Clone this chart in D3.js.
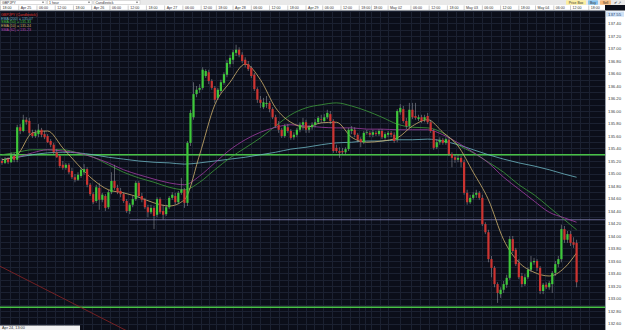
<!DOCTYPE html>
<html>
<head>
<meta charset="utf-8">
<script src="https://cdn.jsdelivr.net/npm/d3@7/dist/d3.min.js"></script>
<style>
  html, body { margin: 0; padding: 0; background: #0b0e19; overflow: hidden; }
  svg { display: block; font-family: "Liberation Sans", Arial, sans-serif; }
</style>
</head>
<body>
<div id="chart"></div>
<script>
// GBPJPY 1 hour candles
var opens = [
  135.20,135.17,135.23,135.18,135.28,135.22,135.74,135.68,135.86,135.84,
  135.65,135.60,135.63,135.70,135.63,135.60,135.52,135.46,135.34,135.28,
  135.14,135.09,135.14,135.04,134.94,134.90,134.96,135.02,135.07,134.82,
  134.67,134.56,134.77,134.58,134.64,134.46,134.70,134.88,134.77,134.72,
  134.67,134.56,134.40,134.50,134.59,134.85,134.64,134.58,134.46,134.38,
  134.45,134.34,134.59,134.40,134.35,134.46,134.61,134.64,134.54,134.69,
  134.74,134.53,135.49,135.90,136.27,136.34,136.37,136.56,136.62,136.48,
  136.37,136.21,136.32,136.45,136.58,136.75,136.82,136.93,136.98,136.90,
  136.82,136.75,136.69,136.58,136.35,136.18,136.06,136.11,136.13,136.03,
  135.90,135.78,135.70,135.60,135.74,135.68,135.58,135.62,135.70,135.78,
  135.82,135.70,135.74,135.78,135.82,135.87,135.84,135.90,135.95,135.84,
  135.41,135.36,135.36,135.34,135.39,135.68,135.70,135.62,135.55,135.50,
  135.65,135.65,135.62,135.65,135.63,135.68,135.57,135.62,135.65,135.62,
  135.54,135.98,136.03,135.84,135.76,136.02,135.92,135.87,135.90,135.86,
  135.92,135.82,135.68,135.42,135.50,135.54,135.49,135.54,135.31,135.26,
  135.22,135.25,135.18,134.69,134.54,134.61,134.66,134.69,134.61,134.19,
  134.06,133.63,133.49,133.23,133.07,133.14,133.22,133.33,133.95,133.78,
  133.57,133.36,133.23,133.34,133.46,133.58,133.60,133.49,133.12,133.22,
  133.18,133.23,133.41,133.55,133.63,134.11,133.94,134.03,133.90,133.89
];
var highs = [
  135.25,135.26,135.26,135.34,135.33,135.78,135.79,135.94,135.90,135.89,
  135.70,135.70,135.79,135.73,135.68,135.63,135.55,135.49,135.39,135.30,
  135.20,135.17,135.17,135.09,134.99,135.02,135.09,135.15,135.10,134.85,
  134.70,134.82,134.85,134.69,134.67,134.74,135.02,135.14,134.82,134.77,
  134.70,134.59,134.53,134.64,134.88,134.88,134.69,134.61,134.50,134.50,
  134.48,134.62,134.62,134.50,134.50,134.64,134.70,134.69,134.72,134.93,
  134.77,135.52,136.02,136.46,136.40,136.43,136.70,136.67,136.66,136.51,
  136.40,136.37,136.50,136.62,136.82,136.90,136.98,137.06,137.02,136.94,
  136.86,136.80,136.72,136.61,136.38,136.24,136.21,136.24,136.16,136.06,
  135.94,135.84,135.73,135.79,135.79,135.71,135.66,135.73,135.82,135.89,
  135.86,135.78,135.82,135.87,135.92,135.94,135.95,136.02,136.00,135.87,
  135.46,135.42,135.41,135.42,135.73,135.76,135.74,135.65,135.58,135.68,
  135.70,135.68,135.70,135.68,135.71,135.71,135.66,135.68,135.68,135.66,
  136.03,136.11,136.08,135.89,136.13,136.13,136.13,135.94,135.94,135.94,
  135.97,135.86,135.71,135.55,135.58,135.57,135.58,135.57,135.34,135.30,
  135.30,135.28,135.22,134.74,134.66,134.70,134.74,134.72,134.66,134.22,
  134.10,133.68,133.52,133.26,133.18,133.28,133.38,134.00,134.00,133.81,
  133.63,133.41,133.39,133.50,133.68,133.65,133.63,133.52,133.25,133.26,
  133.28,133.44,133.60,133.68,134.18,134.16,134.08,134.08,133.98,133.94
];
var lows = [
  135.14,135.15,135.15,135.17,135.18,135.18,135.63,135.66,135.78,135.62,
  135.57,135.57,135.58,135.58,135.55,135.49,135.42,135.31,135.25,135.09,
  135.06,135.06,134.99,134.91,134.86,134.88,134.93,134.98,134.78,134.64,
  134.51,134.53,134.42,134.54,134.40,134.43,134.67,134.74,134.67,134.62,
  134.53,134.37,134.35,134.46,134.56,134.61,134.54,134.43,134.30,134.35,
  134.11,134.30,134.35,134.26,134.32,134.43,134.58,134.51,134.51,134.66,
  134.45,134.48,135.44,135.86,136.22,136.29,136.34,136.53,136.43,136.34,
  136.13,136.18,136.29,136.42,136.54,136.70,136.75,136.88,136.86,136.77,
  136.70,136.64,136.53,136.32,136.13,136.05,136.03,136.05,135.98,135.87,
  135.73,135.65,135.57,135.57,135.65,135.54,135.54,135.58,135.66,135.70,
  135.65,135.65,135.70,135.74,135.79,135.81,135.81,135.87,135.79,135.33,
  135.33,135.25,135.31,135.31,135.36,135.63,135.58,135.50,135.42,135.47,
  135.62,135.58,135.58,135.60,135.60,135.55,135.54,135.58,135.58,135.49,
  135.50,135.94,135.81,135.71,135.73,135.87,135.86,135.84,135.81,135.82,
  135.79,135.65,135.38,135.39,135.46,135.46,135.46,135.28,135.10,135.17,
  135.18,135.10,134.66,134.50,134.51,134.58,134.61,134.58,134.16,134.03,
  133.58,133.34,133.18,132.93,133.01,133.09,133.17,133.30,133.73,133.52,
  133.31,133.18,133.20,133.31,133.42,133.54,133.44,133.07,133.07,133.15,
  133.14,133.09,133.36,133.50,133.58,133.89,133.89,133.84,133.81,133.18
];
var closes = [
  135.17,135.23,135.18,135.30,135.22,135.74,135.68,135.86,135.82,135.65,
  135.60,135.65,135.70,135.62,135.58,135.50,135.46,135.34,135.26,135.12,
  135.09,135.14,135.02,134.94,134.90,134.98,135.06,135.07,134.82,134.67,
  134.54,134.78,134.58,134.66,134.45,134.70,134.88,134.77,134.70,134.67,
  134.56,134.40,134.50,134.59,134.85,134.64,134.58,134.46,134.38,134.45,
  134.32,134.59,134.38,134.34,134.46,134.61,134.66,134.54,134.69,134.74,
  134.53,135.49,135.97,136.27,136.34,136.37,136.66,136.64,136.48,136.37,
  136.18,136.34,136.46,136.59,136.77,136.85,136.94,136.98,136.90,136.80,
  136.74,136.67,136.56,136.35,136.18,136.13,136.14,136.13,136.03,135.90,
  135.76,135.70,135.60,135.76,135.68,135.57,135.62,135.70,135.78,135.82,
  135.70,135.74,135.78,135.82,135.89,135.86,135.90,135.97,135.84,135.36,
  135.36,135.33,135.34,135.39,135.70,135.71,135.62,135.54,135.50,135.65,
  135.66,135.62,135.66,135.63,135.68,135.58,135.63,135.65,135.62,135.52,
  136.00,136.05,135.84,135.76,136.02,135.90,135.89,135.90,135.84,135.90,
  135.82,135.68,135.41,135.50,135.54,135.49,135.55,135.31,135.25,135.22,
  135.25,135.18,134.69,134.54,134.61,134.66,134.69,134.61,134.19,134.06,
  133.63,133.49,133.23,133.09,133.14,133.23,133.33,133.95,133.76,133.55,
  133.34,133.23,133.34,133.46,133.58,133.60,133.49,133.12,133.22,133.18,
  133.25,133.41,133.55,133.63,134.11,133.94,134.03,133.89,133.86,133.26
];

// moving averages, sampled every 5 bars
var maBars = [0,5,10,15,20,25,30,35,40,45,50,55,60,65,70,75,80,85,90,95,
  100,105,110,115,120,125,130,135,140,145,150,155,160,165,170,175,180,185,189];
var ema200 = [135.22,135.26,135.30,135.33,135.34,135.33,135.30,135.26,135.23,135.20,
  135.18,135.17,135.15,135.17,135.20,135.23,135.26,135.30,135.34,135.39,
  135.42,135.46,135.49,135.50,135.52,135.52,135.54,135.54,135.55,135.52,
  135.46,135.38,135.30,135.23,135.17,135.12,135.06,134.99,134.94];
var sma50 = [135.30,135.34,135.38,135.38,135.38,135.33,135.26,135.14,135.02,134.93,
  134.86,134.78,134.74,134.86,135.06,135.25,135.41,135.57,135.76,135.94,
  136.05,136.10,136.13,136.08,136.00,135.90,135.79,135.74,135.73,135.65,
  135.46,135.33,135.18,135.02,134.82,134.66,134.46,134.26,134.10];
var ema10 = [135.22,135.30,135.65,135.68,135.41,135.14,134.90,134.74,134.69,134.62,
  134.53,134.48,134.58,135.30,136.10,136.46,136.75,136.50,136.05,135.82,
  135.74,135.81,135.82,135.58,135.50,135.52,135.57,135.76,135.86,135.66,
  135.44,135.02,134.58,133.94,133.58,133.42,133.36,133.49,133.73];
var sma62 = [135.22,135.26,135.33,135.38,135.36,135.33,135.26,135.17,135.06,134.98,
  134.91,134.85,134.82,134.96,135.17,135.38,135.54,135.66,135.74,135.78,
  135.76,135.74,135.73,135.73,135.71,135.71,135.70,135.70,135.70,135.62,
  135.49,135.34,135.17,134.94,134.75,134.56,134.38,134.29,134.22];

// time axis
var tickBars = [-0.5,5.5,11.5,17.5,23.5,29.5,35.5,41.5,47.5,53.5,59.5,65.5,70.5,76,82,88,94,100,
  105.5,111.5,117.5,121.5,127,134.5,140.5,146.5,152,158,164,170,175.5,181.5,187,193];
var tickLabels = ["18:00","Apr 25","06:00","12:00","18:00","Apr 26","06:00","12:00","18:00",
  "Apr 27","06:00","12:00","18:00","Apr 28","06:00","12:00","18:00","Apr 29","06:00","12:00",
  "18:00","18:00","May 02","06:00","12:00","18:00","May 03","06:00","12:00","18:00","May 04",
  "06:00","12:00","18:00"];

// price axis
var priceTicks = [137.40,137.20,137.00,136.80,136.60,136.40,136.20,136.00,135.80,135.60,
  135.40,135.20,135.00,134.80,134.60,134.40,134.20,134.00,133.80,133.60,133.40,133.20,
  133.00,132.80,132.60];
var topPrice = 137.55;

// drawn lines
var levelPrices = [135.30, 132.86];
var resistancePrice = 134.26;
var resistanceStart = 42;
var trendBars = [-2, 44];
var trendPrices = [133.55, 132.41];

var legendTexts = ["GBPJPY (Candlestick)", "EMA (200) = 135.07", "SMA (50) = 135.33",
  "EMA (10) = 135.24", "SMA (62) = 135.23"];
var legendColors = ["#e0352c", "#6fb7c4", "#4fc24a", "#d2b46e", "#b548b5"];

var W = 625, H = 330;
var plotLeft = 0, plotRight = 605, plotTop = 10.5, plotBottom = 330;

var svg = d3.select("#chart")
    .append("svg")
    .attr("width", W)
    .attr("height", H);

var x = d3.scaleLinear()
    .domain([0, opens.length - 1])
    .range([2, 576.6]);

var y = d3.scaleLinear()
    .domain([137, 133])
    .range([48.5, 298.5]);

svg.append("defs").append("clipPath")
    .attr("id", "plotClip")
    .append("rect")
    .attr("x", plotLeft)
    .attr("y", plotTop)
    .attr("width", plotRight - plotLeft)
    .attr("height", plotBottom - plotTop);

svg.append("rect")
    .attr("width", W)
    .attr("height", H)
    .attr("fill", "#0b0e19");

var plot = svg.append("g").attr("clip-path", "url(#plotClip)");

/* grid */
var hGrid = d3.range(1326, 1377).map(function (d) { return d / 10; });
plot.selectAll(".hgrid")
    .data(hGrid)
    .enter().append("line")
    .attr("x1", plotLeft).attr("x2", plotRight)
    .attr("y1", function (d) { return Math.round(y(d)) + 0.5; })
    .attr("y2", function (d) { return Math.round(y(d)) + 0.5; })
    .attr("stroke", "#1b2131")
    .attr("stroke-width", 1);

var vGrid = [];
tickBars.forEach(function (b, i) {
    vGrid.push(b);
    if (i < tickBars.length - 1) vGrid.push((b + tickBars[i + 1]) / 2);
});
plot.selectAll(".vgrid")
    .data(vGrid)
    .enter().append("line")
    .attr("y1", plotTop).attr("y2", plotBottom)
    .attr("x1", function (d) { return Math.round(x(d)) + 0.5; })
    .attr("x2", function (d) { return Math.round(x(d)) + 0.5; })
    .attr("stroke", "#1b2131")
    .attr("stroke-width", 1);

/* horizontal levels and trend line */
plot.selectAll(".level")
    .data(levelPrices)
    .enter().append("line")
    .attr("x1", plotLeft).attr("x2", plotRight)
    .attr("y1", function (d) { return y(d); })
    .attr("y2", function (d) { return y(d); })
    .attr("stroke", "#48c146")
    .attr("stroke-width", 1.3);

plot.append("line")
    .attr("x1", x(resistanceStart)).attr("x2", plotRight)
    .attr("y1", y(resistancePrice)).attr("y2", y(resistancePrice))
    .attr("stroke", "#8583b5")
    .attr("stroke-width", 0.8);

plot.append("line")
    .attr("x1", x(trendBars[0])).attr("x2", x(trendBars[1]))
    .attr("y1", y(trendPrices[0])).attr("y2", y(trendPrices[1]))
    .attr("stroke", "#8e2424")
    .attr("stroke-width", 0.8);

/* moving averages */
var maLine = d3.line()
    .x(function (d, i) { return x(maBars[i]); })
    .y(function (d) { return y(d); })
    .curve(d3.curveMonotoneX);

[[ema200, legendColors[1]], [sma50, "#3f9e3c"], [sma62, "#a23ea4"], [ema10, legendColors[3]]]
    .forEach(function (s) {
        plot.append("path")
            .datum(s[0])
            .attr("d", maLine)
            .attr("fill", "none")
            .attr("stroke", s[1])
            .attr("stroke-width", 0.8);
    });

/* candles */
var bars = d3.range(opens.length);
var bodyW = 2.2;

plot.selectAll(".wick")
    .data(bars)
    .enter().append("line")
    .attr("x1", function (i) { return x(i); })
    .attr("x2", function (i) { return x(i); })
    .attr("y1", function (i) { return y(highs[i]); })
    .attr("y2", function (i) { return y(lows[i]); })
    .attr("stroke", "#8d9098")
    .attr("stroke-width", 0.6);

plot.selectAll(".body")
    .data(bars)
    .enter().append("rect")
    .attr("x", function (i) { return x(i) - bodyW / 2; })
    .attr("y", function (i) { return y(Math.max(opens[i], closes[i])); })
    .attr("width", bodyW)
    .attr("height", function (i) { return Math.max(0.7, Math.abs(y(opens[i]) - y(closes[i]))); })
    .attr("fill", function (i) { return closes[i] >= opens[i] ? "#3ec83a" : "#cd3431"; });

/* legend */
svg.selectAll(".legend")
    .data(legendTexts)
    .enter().append("text")
    .attr("x", 1)
    .attr("y", function (d, i) { return 16 + i * 3.7; })
    .attr("fill", function (d, i) { return legendColors[i]; })
    .style("font-size", "3.6px")
    .text(function (d) { return d; });

/* price axis */
svg.append("rect")
    .attr("x", plotRight).attr("y", plotTop)
    .attr("width", W - plotRight).attr("height", H - plotTop)
    .attr("fill", "#ffffff");

svg.append("line")
    .attr("x1", plotRight + 0.5).attr("x2", plotRight + 0.5)
    .attr("y1", plotTop).attr("y2", H)
    .attr("stroke", "#9aa0aa");

svg.selectAll(".ptick")
    .data(priceTicks)
    .enter().append("text")
    .attr("x", 608)
    .attr("y", function (d) { return y(d); })
    .attr("dy", "0.35em")
    .attr("fill", "#3a3a3a")
    .style("font-size", "4.3px")
    .text(function (d) { return d.toFixed(2); });

svg.append("rect")
    .attr("x", 606).attr("y", y(topPrice) - 2.6)
    .attr("width", 18).attr("height", 5.2)
    .attr("fill", "#cfe2f6");
svg.append("text")
    .attr("x", 608).attr("y", y(topPrice))
    .attr("dy", "0.35em")
    .attr("fill", "#1c3b66")
    .style("font-size", "4.3px")
    .text(topPrice.toFixed(2));

/* cursor time box */
svg.append("rect")
    .attr("x", 0).attr("y", 325.5)
    .attr("width", 80).attr("height", 5)
    .attr("fill", "#f2f2f2");
svg.append("text")
    .attr("x", 2).attr("y", 329.3)
    .attr("fill", "#333")
    .style("font-size", "3.8px")
    .text("Apr 24, 13:00");

/* toolbar */
svg.append("rect")
    .attr("x", 0).attr("y", 0)
    .attr("width", W).attr("height", 5)
    .attr("fill", "#e9e9e9");

var drops = [["GBPJPY", 0.5, 46], ["1 hour", 47.5, 92], ["Candlestick", 94, 140]];
drops.forEach(function (d) {
    svg.append("rect")
        .attr("x", d[1]).attr("y", 0.5)
        .attr("width", d[2] - d[1]).attr("height", 4)
        .attr("fill", "#ffffff").attr("stroke", "#b8b8b8").attr("stroke-width", 0.4);
    svg.append("text")
        .attr("x", d[1] + 1.5).attr("y", 3.8)
        .attr("fill", "#333").style("font-size", "3.5px")
        .text(d[0]);
    svg.append("path")
        .attr("d", "M" + (d[2] - 4) + ",1.8 L" + (d[2] - 2) + ",1.8 L" + (d[2] - 3) + ",3.2 Z")
        .attr("fill", "#444");
});

var buttons = [["Price Box", 566, 586, "#fbeea0"], ["Buy", 588, 598, "#86c3ee"], ["Sell", 600, 611, "#f6ba7d"]];
buttons.forEach(function (b) {
    svg.append("rect")
        .attr("x", b[1]).attr("y", 0.3)
        .attr("width", b[2] - b[1]).attr("height", 4.4)
        .attr("rx", 0.6)
        .attr("fill", b[3]);
    svg.append("text")
        .attr("x", (b[1] + b[2]) / 2).attr("y", 3.7)
        .attr("text-anchor", "middle")
        .attr("fill", "#333").style("font-size", "3.4px")
        .text(b[0]);
});
svg.append("text")
    .attr("x", 614).attr("y", 3.9)
    .attr("fill", "#444").style("font-size", "4px")
    .text("\u2714 \u2197");

/* time axis */
svg.append("rect")
    .attr("x", 0).attr("y", 5)
    .attr("width", plotRight).attr("height", 5.5)
    .attr("fill", "#ffffff");
svg.append("line")
    .attr("x1", 0).attr("x2", plotRight)
    .attr("y1", 10.3).attr("y2", 10.3)
    .attr("stroke", "#9aa0aa").attr("stroke-width", 0.5);

svg.selectAll(".tsep")
    .data(tickBars)
    .enter().append("line")
    .attr("x1", function (d) { return x(d); })
    .attr("x2", function (d) { return x(d); })
    .attr("y1", 5.5).attr("y2", 10)
    .attr("stroke", "#9a9a9a")
    .attr("stroke-width", 0.5);

svg.selectAll(".tlabel")
    .data(tickLabels)
    .enter().append("text")
    .attr("x", function (d, i) { return x(tickBars[i]) + 2; })
    .attr("y", 9)
    .attr("fill", "#333")
    .style("font-size", "3.6px")
    .text(function (d) { return d; });
</script>
</body>
</html>
